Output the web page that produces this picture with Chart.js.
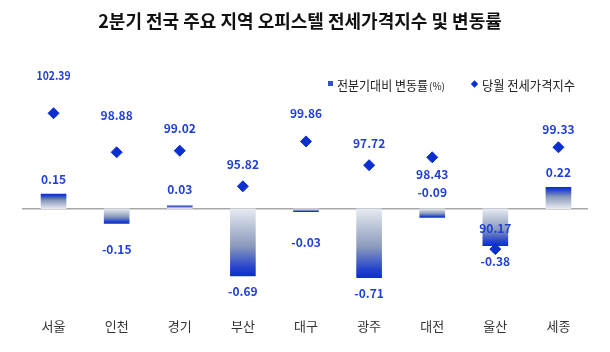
<!DOCTYPE html>
<html>
<head>
<meta charset="utf-8">
<script src="https://cdn.jsdelivr.net/npm/chart.js@4.4.1/dist/chart.umd.min.js"></script>
<style>
  html, body { margin: 0; padding: 0; background: #ffffff; }
  #wrap { width: 610px; height: 352px; }
</style>
</head>
<body>
<div id="wrap"><canvas id="c" width="610" height="352"></canvas></div>
<script>
// ---- data ----
const chartTitle = '2분기 전국 주요 지역 오피스텔 전세가격지수 및 변동률';
const categories = ['서울', '인천', '경기', '부산', '대구', '광주', '대전', '울산', '세종'];
const changeRates = [0.15, -0.15, 0.03, -0.69, -0.03, -0.71, -0.09, -0.38, 0.22];
const priceIndex = [102.39, 98.88, 99.02, 95.82, 99.86, 97.72, 98.43, 90.17, 99.33];
const seriesNames = ['전분기대비 변동률', '당월 전세가격지수'];
const seriesUnit = '(%)';

// label placement (pixel offsets from the mark, as in the original)
const barLabelDy = [-15, 26, -16, 16, 31, 16, -25, 16, -15];
const indexLabelDy = [-38, -37, -22, -22, -28, -22, 17, -21, -18];

const FONT = '"Noto Sans CJK KR", "Noto Sans", sans-serif';
const DARK_BLUE = '#0b2fcf';
const LABEL_BLUE = '#1f3fd6';

function barGradient(context) {
  const chart = context.chart;
  if (!chart.chartArea || context.type !== 'data') return '#5a6fb8';
  const ys = chart.scales.y;
  const v = context.raw;
  const y0 = ys.getPixelForValue(0);
  const y1 = ys.getPixelForValue(v);
  if (Math.abs(y1 - y0) < 1) return DARK_BLUE;
  const g = chart.ctx.createLinearGradient(0, y0, 0, y1);
  g.addColorStop(0, '#e6eaf2');
  g.addColorStop(0.55, '#8c9bbb');
  g.addColorStop(0.88, '#2443cc');
  g.addColorStop(1, DARK_BLUE);
  return g;
}

const zeroLine = {
  id: 'zeroLine',
  beforeDatasetsDraw(chart) {
    const { ctx, chartArea } = chart;
    const y = chart.scales.y.getPixelForValue(0);
    ctx.save();
    ctx.strokeStyle = '#a8a8a8';
    ctx.lineWidth = 1.5;
    ctx.beginPath();
    ctx.moveTo(chartArea.left, y);
    ctx.lineTo(chartArea.right - 2, y);
    ctx.stroke();
    ctx.restore();
  }
};

const valueLabels = {
  id: 'valueLabels',
  afterDatasetsDraw(chart) {
    const ctx = chart.ctx;
    ctx.save();
    ctx.font = 'bold 12px ' + FONT;
    ctx.fillStyle = LABEL_BLUE;
    ctx.textAlign = 'center';
    ctx.textBaseline = 'middle';
    chart.getDatasetMeta(0).data.forEach((el, i) => {
      ctx.fillText(changeRates[i].toFixed(2), el.x, el.y + barLabelDy[i], 34);
    });
    chart.getDatasetMeta(1).data.forEach((el, i) => {
      ctx.fillText(priceIndex[i].toFixed(2), el.x, el.y + indexLabelDy[i], 34);
    });
    ctx.restore();
  }
};

const titleAndLegend = {
  id: 'titleAndLegend',
  afterDraw(chart) {
    const ctx = chart.ctx;
    ctx.save();
    // title
    ctx.fillStyle = '#111111';
    ctx.font = 'bold 18px ' + FONT;
    ctx.textAlign = 'center';
    ctx.textBaseline = 'middle';
    ctx.fillText(chartTitle, 300, 21, 406);
    // legend
    ctx.textAlign = 'left';
    ctx.fillStyle = '#3552c2';
    ctx.fillRect(328, 81, 5, 5);
    ctx.fillStyle = '#222222';
    ctx.font = '13px ' + FONT;
    ctx.fillText(seriesNames[0], 337, 85, 91);
    ctx.font = '10px ' + FONT;
    ctx.fillText(seriesUnit, 429, 86, 17);
    ctx.fillStyle = DARK_BLUE;
    ctx.beginPath();
    ctx.moveTo(474.5, 80.3);
    ctx.lineTo(478.2, 84);
    ctx.lineTo(474.5, 87.7);
    ctx.lineTo(470.8, 84);
    ctx.closePath();
    ctx.fill();
    ctx.fillStyle = '#222222';
    ctx.font = '13px ' + FONT;
    ctx.fillText(seriesNames[1], 482, 85, 93);
    ctx.restore();
  }
};

new Chart(document.getElementById('c'), {
  data: {
    labels: categories,
    datasets: [
      {
        type: 'bar',
        label: seriesNames[0] + seriesUnit,
        data: changeRates,
        yAxisID: 'y',
        backgroundColor: barGradient,
        borderWidth: 0,
        barThickness: 25,
        order: 2
      },
      {
        type: 'line',
        label: seriesNames[1],
        data: priceIndex,
        yAxisID: 'y2',
        showLine: false,
        pointStyle: 'rectRot',
        pointRadius: 5.5,
        pointHoverRadius: 5.5,
        pointBackgroundColor: DARK_BLUE,
        pointBorderColor: DARK_BLUE,
        pointBorderWidth: 1,
        order: 1
      }
    ]
  },
  options: {
    responsive: false,
    animation: false,
    layout: { padding: { top: 100, left: 22, right: 20, bottom: 11 } },
    plugins: {
      legend: { display: false },
      title: { display: false },
      tooltip: { enabled: false }
    },
    scales: {
      x: {
        grid: { display: false, drawTicks: false },
        border: { display: false },
        ticks: { color: '#333333', padding: 7, font: { family: FONT, size: 13 } }
      },
      y: {
        display: false,
        min: -1.056,
        max: 1.118
      },
      y2: {
        display: false,
        position: 'right',
        min: 84.569,
        max: 103.583
      }
    }
  },
  plugins: [zeroLine, valueLabels, titleAndLegend]
});
</script>
</body>
</html>
